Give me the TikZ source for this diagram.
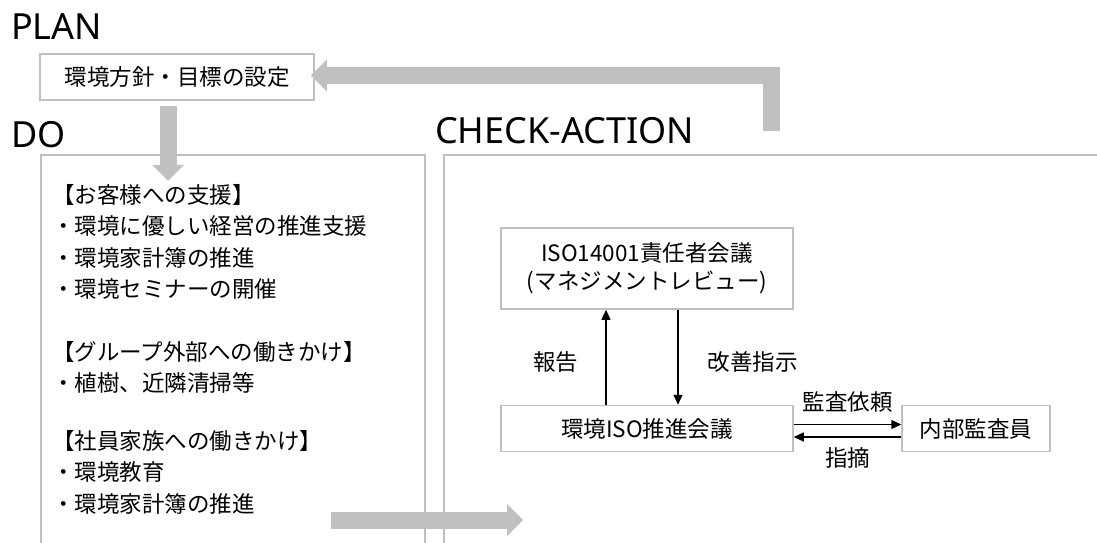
\documentclass[tikz,border=0pt]{standalone}
\usepackage{fontspec}
\setmainfont{Noto Sans CJK JP}
\newfontfamily\headfont{Noto Sans}
\usepackage{xcolor}
\definecolor{gris}{RGB}{191,191,191}
\definecolor{grisFlecha}{RGB}{192,192,192}
\usepackage{tikz}
\usetikzlibrary{arrows.meta,calc,positioning}
\tikzstyle{titulo}=[font=\fontsize{36}{40}\selectfont\headfont,
                    anchor=base west, inner sep=0pt]
\tikzstyle{txt}   =[font=\fontsize{22.5}{28}\selectfont, inner sep=0pt]
\tikzstyle{item}  =[txt, text height=19.8pt, text depth=2.7pt]
\tikzstyle{caja}  =[draw=gris, line width=1.5pt, inner sep=0pt,
                    minimum height=46pt]
\tikzstyle{marco} =[draw=gris, line width=1.5pt, inner sep=0pt,
                    anchor=north west, minimum height=450pt]
\tikzstyle{link}  =[-{Triangle[length=10pt,width=9pt]}, line width=1.2pt]
\tikzstyle{flow}  =[-{Triangle[length=16pt,width=32pt,line width=0pt]},
                    line width=17pt, draw=grisFlecha]

\begin{document}
\begin{tikzpicture}[x=1pt,y=-1pt]
    \useasboundingbox (0,0) rectangle (1097,543);
    \clip (0,0) rectangle (1097,543);

    % titulos
    \node[titulo] (tplan)  at (11,40)  {PLAN};
    \node[titulo] (tdo)    at (11,147) {DO};
    \node[titulo] (tcheck) at (435,143) {CHECK-ACTION};

    % plan y marcos
    \node[caja, item, minimum width=274pt] (plan) at (177,77) {環境方針・目標の設定};
    \node[marco, minimum width=384pt] (do) at (40,154) {};
    \node[marco, minimum width=700pt] (ca) at (443,154) {};

    % lista DO
    \foreach \y/\t [count=\i] in {195/【お客様への支援】, 226/・環境に優しい経営の推進支援,
        258/・環境家計簿の推進, 289/・環境セミナーの開催, 352/【グループ外部への働きかけ】,
        383/・植樹、近隣清掃等, 441/【社員家族への働きかけ】, 472/・環境教育,
        504/・環境家計簿の推進}
        \node[item, anchor=west] (item\i) at (52,\y) {\t};

    % CHECK-ACTION
    \node[caja, txt, minimum width=292pt, minimum height=81pt, align=center]
        (iso) at (647,268.5) {ISO14001責任者会議\\(マネジメントレビュー)};
    \node[caja, item, minimum width=292pt] (promo) at (647,428.5) {環境ISO推進会議};
    \node[caja, item, minimum width=148pt] (audit) at (976,428.5) {内部監査員};

    \draw[link] ([xshift=-41pt]promo.north) -- ([xshift=-41pt]iso.south)
        node[item, pos=0.45, left=27pt] (report) {報告};
    \draw[link] ([xshift=31pt]iso.south) -- ([xshift=31pt]promo.north)
        node[item, pos=0.55, right=29pt] (order) {改善指示};
    \draw[link] ($(promo.east)+(0,-4)$) -- ($(promo.east -| audit.west)+(0,-4)$)
        node[item, midway, above=11pt] (request) {監査依頼};
    \draw[link] ($(promo.east -| audit.west)+(0,8.5)$) -- ($(promo.east)+(0,8.5)$)
        node[item, midway, below=9pt] (remark) {指摘};

    % flechas grandes
    \coordinate (back) at ($(ca.north west)+(328,-23)$);
    \coordinate (out) at (331,520);
    \draw[flow] ([xshift=-9pt,yshift=-5pt]plan.south) -- ++(0,75);
    \draw[flow] (back) |- ([xshift=-4pt,yshift=1.5pt]plan.east);
    \draw[flow] (out) -- ++(192,0);

\end{tikzpicture}
\end{document}
